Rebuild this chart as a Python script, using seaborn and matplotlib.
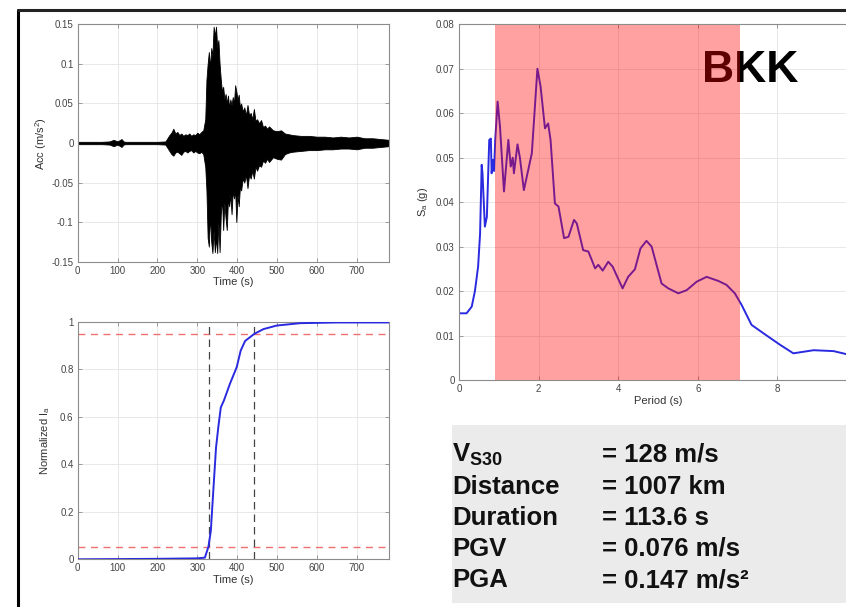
import numpy as np
import pandas as pd
import seaborn as sns
import matplotlib.pyplot as plt
from matplotlib.lines import Line2D
from matplotlib.patches import Rectangle

acc_time = [0, 20, 40, 60, 80, 90, 100, 110, 115, 120, 140, 160, 180, 200, 220,
            230, 235, 240, 245, 250, 255, 260, 265, 270, 275, 280, 285, 290, 295,
            300, 305, 310, 315, 320, 323, 326, 329, 332, 335, 338, 341, 344, 347,
            350, 353, 356, 359, 362, 365, 368, 371, 374, 377, 380, 383, 386, 389,
            392, 395, 398, 401, 404, 407, 410, 414, 418, 422, 426, 430, 434, 438,
            442, 446, 450, 455, 460, 465, 470, 475, 480, 490, 500, 510, 520, 530,
            540, 560, 580, 600, 620, 640, 660, 680, 700, 720, 740, 760, 781]
acc_upper = [0.0015, 0.0015, 0.0015, 0.0015, 0.002, 0.004, 0.002, 0.005, 0.002, 0.0015,
             0.0015, 0.0015, 0.0015, 0.0015, 0.002,
             0.010, 0.013, 0.018, 0.012, 0.014, 0.010, 0.012, 0.009, 0.011, 0.010,
             0.012, 0.009, 0.011, 0.010, 0.013, 0.011, 0.014, 0.016, 0.030, 0.080,
             0.100, 0.115, 0.095, 0.120, 0.110, 0.147, 0.135, 0.147, 0.120, 0.130,
             0.100, 0.080, 0.065, 0.071, 0.055, 0.062, 0.050, 0.060, 0.045, 0.055,
             0.048, 0.058, 0.050, 0.073, 0.065, 0.055, 0.061, 0.045, 0.050, 0.040,
             0.045, 0.035, 0.048, 0.035, 0.038, 0.030, 0.043, 0.028, 0.030, 0.025,
             0.029, 0.020, 0.022, 0.018, 0.021, 0.016, 0.015, 0.016, 0.012, 0.011,
             0.010, 0.009, 0.009, 0.008, 0.008, 0.007, 0.008, 0.007, 0.008, 0.006,
             0.006, 0.005, 0.004]
acc_lower = [-0.0015, -0.0015, -0.0015, -0.0015, -0.002, -0.004, -0.002, -0.005, -0.002,
             -0.0015, -0.0015, -0.0015, -0.0015, -0.0015, -0.002,
             -0.010, -0.014, -0.016, -0.012, -0.011, -0.013, -0.015, -0.011, -0.010,
             -0.012, -0.010, -0.009, -0.012, -0.010, -0.012, -0.013, -0.011, -0.014,
             -0.030, -0.060, -0.120, -0.131, -0.090, -0.125, -0.139, -0.110, -0.138,
             -0.120, -0.139, -0.100, -0.138, -0.090, -0.070, -0.110, -0.075, -0.095,
             -0.110, -0.070, -0.080, -0.065, -0.090, -0.060, -0.070, -0.060, -0.100,
             -0.065, -0.080, -0.055, -0.060, -0.045, -0.050, -0.040, -0.057, -0.040,
             -0.045, -0.035, -0.045, -0.030, -0.035, -0.028, -0.030, -0.022, -0.025,
             -0.020, -0.024, -0.018, -0.020, -0.021, -0.014, -0.012, -0.011, -0.010,
             -0.009, -0.009, -0.008, -0.008, -0.007, -0.007, -0.008, -0.006, -0.006,
             -0.005, -0.004]

# Normalized Arias intensity
arias_time = [0, 100, 200, 300, 319, 328, 334, 341, 347, 353, 359, 367, 382, 399,
              409, 420, 443, 466, 499, 558, 650, 781]
arias_val = [0.0, 0.001, 0.002, 0.004, 0.007, 0.053, 0.12, 0.31, 0.47, 0.56, 0.64,
             0.67, 0.74, 0.81, 0.88, 0.92, 0.95, 0.97, 0.985, 0.995, 0.998, 0.998]
arias_limits = [0.05, 0.95]
duration_bounds = [329.5, 443.1]

# Response spectrum
period = [0.0, 0.03, 0.19, 0.32, 0.40, 0.48, 0.53, 0.57, 0.59, 0.65, 0.70, 0.76,
          0.80, 0.82, 0.85, 0.88, 0.91, 0.97, 1.03, 1.13, 1.24, 1.30, 1.35, 1.38,
          1.47, 1.53, 1.63, 1.83, 1.97, 2.05, 2.16, 2.24, 2.30, 2.41, 2.50, 2.64,
          2.75, 2.89, 2.96, 3.12, 3.25, 3.42, 3.50, 3.61, 3.75, 3.86, 4.11, 4.25,
          4.42, 4.56, 4.71, 4.84, 5.09, 5.26, 5.51, 5.72, 5.97, 6.22, 6.51, 6.72,
          6.93, 7.10, 7.35, 7.65, 8.07, 8.40, 8.91, 9.41, 9.74, 10.0]
sa = [0.0149, 0.015, 0.015, 0.0165, 0.020, 0.0255, 0.033, 0.0484, 0.0465, 0.0345,
      0.0367, 0.054, 0.0543, 0.0465, 0.0495, 0.047, 0.054, 0.0626, 0.057, 0.0424,
      0.054, 0.048, 0.050, 0.0465, 0.053, 0.050, 0.0427, 0.051, 0.070, 0.066,
      0.0566, 0.0577, 0.054, 0.0397, 0.039, 0.0319, 0.0322, 0.036, 0.0352, 0.0292,
      0.0289, 0.0251, 0.0259, 0.0246, 0.0266, 0.0255, 0.0206, 0.0232, 0.0249,
      0.0296, 0.0313, 0.030, 0.0217, 0.0206, 0.0195, 0.0202, 0.0221, 0.0232,
      0.0223, 0.0214, 0.0195, 0.0169, 0.0124, 0.0105, 0.0079, 0.006, 0.0067,
      0.0065, 0.0058, 0.0056]
band = [0.9, 7.06]

station = 'BKK'
info_labels = ['V', 'Distance', 'Duration', 'PGV', 'PGA']
info_values = ['= 128 m/s', '= 1007 km', '= 113.6 s', '= 0.076 m/s', '= 0.147 m/s\u00b2']

sns.set_theme(style='whitegrid')
plt.rcParams['font.family'] = ['Liberation Sans', 'DejaVu Sans']
plt.rcParams['mathtext.fontset'] = 'custom'
plt.rcParams['mathtext.rm'] = 'Liberation Sans'
plt.rcParams['mathtext.it'] = 'Liberation Sans:italic'
plt.rcParams['mathtext.bf'] = 'Liberation Sans:bold'

W, H = 846, 607
fig = plt.figure(figsize=(W / 100, H / 100), dpi=100, facecolor='white')


def px_axes(x0, y0, x1, y1):
    return fig.add_axes([x0 / W, 1 - y1 / H, (x1 - x0) / W, (y1 - y0) / H])


def style(ax):
    ax.set_facecolor('white')
    ax.grid(True, color='#e4e4e4', lw=0.6)
    for s in ax.spines.values():
        s.set_color('#8c8c8c')
        s.set_linewidth(0.8)
    ax.tick_params(direction='in', length=3, width=0.6, color='#8c8c8c',
                   labelsize=7, labelcolor='#444444', pad=3,
                   top=True, right=True, bottom=True, left=True)
    ax.xaxis.label.set_size(8)
    ax.yaxis.label.set_size(8)
    ax.xaxis.label.set_color('#333333')
    ax.yaxis.label.set_color('#333333')


# acceleration panel
ax1 = px_axes(77.7, 24.3, 389, 261.7)
ax1.fill_between(acc_time, acc_lower, acc_upper, color='black', lw=0.6, edgecolor='black')
ax1.set_xlim(0, 781)
ax1.set_ylim(-0.15, 0.15)
ax1.set_xticks(range(0, 800, 100))
ax1.set_yticks([-0.15, -0.1, -0.05, 0, 0.05, 0.1, 0.15])
ax1.set_yticklabels(['-0.15', '-0.1', '-0.05', '0', '0.05', '0.1', '0.15'])
ax1.set_xlabel('Time (s)', labelpad=1)
ax1.set_ylabel('Acc (m/s$^2$)', labelpad=2)
style(ax1)

# arias panel
ax2 = px_axes(77.7, 322, 389, 559.3)
for lvl in arias_limits:
    ax2.axhline(lvl, color='#f07070', lw=1.0, ls=(0, (5, 4)))
for tb in duration_bounds:
    ax2.axvline(tb, color='#444444', lw=0.9, ls=(0, (6, 4)))
sns.lineplot(x=arias_time, y=arias_val, ax=ax2, color='#2a2ae0', lw=1.4, zorder=3)
ax2.set_xlim(0, 781)
ax2.set_ylim(0, 1)
ax2.set_xticks(range(0, 800, 100))
ax2.set_yticks([0, 0.2, 0.4, 0.6, 0.8, 1])
ax2.set_yticklabels(['0', '0.2', '0.4', '0.6', '0.8', '1'])
ax2.set_xlabel('Time (s)', labelpad=1)
ax2.set_ylabel(r'Normalized I$_\mathrm{a}$', labelpad=6)
style(ax2)

# spectrum panel
ax3 = px_axes(459, 24.3, 857, 380)
ax3.text(702 / W, 1 - 82 / H, station, transform=fig.transFigure, fontsize=32,
         fontweight='bold', color='black', ha='left', va='baseline', zorder=1)
df_sp = pd.DataFrame({'period': period, 'sa': sa})
sns.lineplot(data=df_sp, x='period', y='sa', ax=ax3, color='#2a2ae0', lw=1.4, zorder=1.5)
ax3.axvspan(band[0], band[1], color='red', alpha=0.37, lw=0, zorder=2)
ax3.set_xlim(0, 10)
ax3.set_ylim(0, 0.08)
ax3.set_xticks([0, 2, 4, 6, 8])
ax3.set_yticks([0, 0.01, 0.02, 0.03, 0.04, 0.05, 0.06, 0.07, 0.08])
ax3.set_yticklabels(['0', '0.01', '0.02', '0.03', '0.04', '0.05', '0.06', '0.07', '0.08'])
ax3.set_xlabel('Period (s)', labelpad=1)
ax3.set_ylabel(r'S$_\mathrm{a}$ (g)', labelpad=4)
style(ax3)

# info box
fig.add_artist(Rectangle((452 / W, 1 - 603 / H), (W - 452) / W, (603 - 425) / H,
                         transform=fig.transFigure, facecolor='#ebebeb', edgecolor='none'))
baselines = [462, 494, 525, 556, 587]
for lab, val, b in zip(info_labels, info_values, baselines):
    y = 1 - b / H
    if lab == 'V':
        fig.text(452 / W, y, r'$\mathbf{V_{S30}}$', fontsize=18.5, ha='left', va='baseline',
                 color='#111111')
    else:
        fig.text(452 / W, y, lab, fontsize=18.5, fontweight='bold', ha='left', va='baseline',
                 color='#111111')
    fig.text(602 / W, y, val, fontsize=18.5, fontweight='bold', ha='left', va='baseline',
             color='#111111')

# outer frame
fig.add_artist(Line2D([18 / W, 18 / W], [0, 1 - 10 / H], transform=fig.transFigure,
                      color='black', lw=2.2))
fig.add_artist(Line2D([18 / W, 1], [1 - 10 / H, 1 - 10 / H], transform=fig.transFigure,
                      color='#222222', lw=2.2))

fig.savefig('out.png', dpi=100)
